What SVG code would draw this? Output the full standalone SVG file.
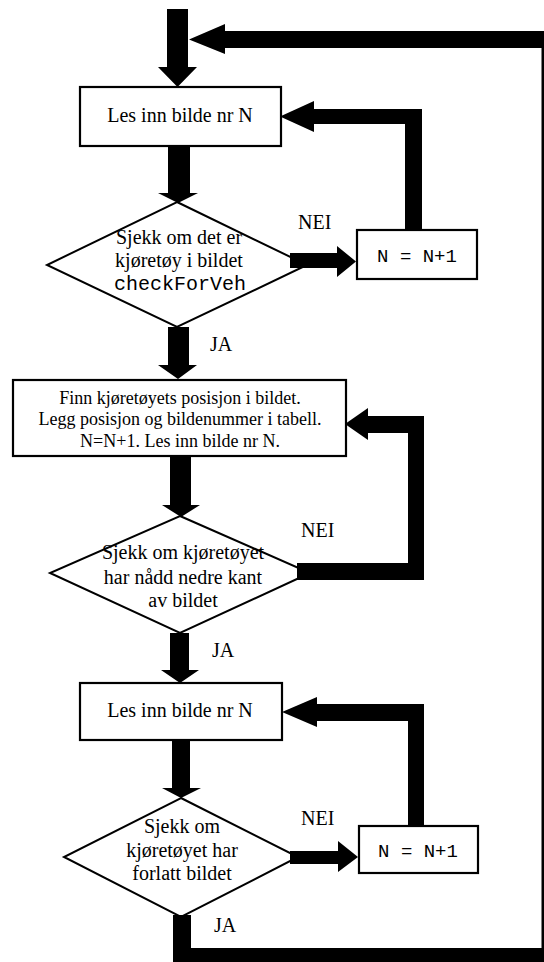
<svg xmlns="http://www.w3.org/2000/svg" width="544" height="962" viewBox="0 0 544 962">
<style>
.bg{fill:#fff}
.box{fill:#fff;stroke:#000;stroke-width:2.2}
.dia{fill:#fff;stroke:#000;stroke-width:2}
.t{font-family:"Liberation Serif","Times New Roman",serif;font-size:20px;fill:#000;text-anchor:middle}
.t2{font-family:"Liberation Serif","Times New Roman",serif;font-size:18px;fill:#000;text-anchor:middle}
.m{font-family:"Liberation Mono","Courier New",monospace;font-size:19px;fill:#000;text-anchor:middle}
.lbl{font-family:"Liberation Serif","Times New Roman",serif;font-size:20px;fill:#000}
.c{fill:#000;stroke:none}
</style>
<rect class="bg" x="0" y="0" width="544" height="962"/>
<g id="box1">
<rect class="box" x="80" y="87" width="201" height="59"/>
<text class="t" x="180" y="122">Les inn bilde nr N</text>
</g>
<g id="dia1">
<polygon class="dia" points="177,202 307,265 177,327 47,265"/>
<text class="t" x="179" y="244">Sjekk om det er</text>
<text class="t" x="179" y="267">kjøretøy i bildet</text>
<text class="m" x="180" y="290" style="font-size:20px">checkForVeh</text>
</g>
<g id="inc1">
<rect class="box" x="357" y="230" width="120" height="49"/>
<text class="m" x="417" y="262">N = N+1</text>
</g>
<g id="box2">
<rect class="box" x="13" y="380" width="333" height="76"/>
<text class="t2" x="180" y="404">Finn kjøretøyets posisjon i bildet.</text>
<text class="t2" x="180" y="425">Legg posisjon og bildenummer i tabell.</text>
<text class="t2" x="180" y="447">N=N+1. Les inn bilde nr N.</text>
</g>
<g id="dia2">
<polygon class="dia" points="180,516 310,573 180,633 50,573"/>
<text class="t" x="183" y="559">Sjekk om kjøretøyet</text>
<text class="t" x="183" y="584">har nådd nedre kant</text>
<text class="t" x="183" y="607">av bildet</text>
</g>
<g id="box3">
<rect class="box" x="80" y="683" width="202" height="57"/>
<text class="t" x="180" y="717">Les inn bilde nr N</text>
</g>
<g id="dia3">
<polygon class="dia" points="181,798 298,857 181,917 64,857"/>
<text class="t" x="182" y="833">Sjekk om</text>
<text class="t" x="182" y="857">kjøretøyet har</text>
<text class="t" x="182" y="880">forlatt bildet</text>
</g>
<g id="inc2">
<rect class="box" x="359" y="826" width="119" height="47"/>
<text class="m" x="418" y="857">N = N+1</text>
</g>
<g id="connectors">
<polygon class="c" points="167,9 188,9 188,67 197,67 177.5,87 158,67 167,67"/>
<polygon class="c" points="168,146 190,146 190,193 198,193 178,203 158,193 168,193"/>
<polygon class="c" points="168,327 189,327 189,365 197,365 178,379 158,365 168,365"/>
<polygon class="c" points="170,456 191,456 191,505 200,505 181,517 162,505 170,505"/>
<polygon class="c" points="170,633 189,633 189,670 199,670 180,683 161,670 170,670"/>
<polygon class="c" points="172,740 190,740 190,788 201,788 181,798 162,788 172,788"/>
<polygon class="c" points="173,915 173,962 544,962 544,31 225,31 225,24 189,39.5 225,54 225,48 541.5,48 541.5,948 191,948 191,915"/>
<polygon class="c" points="280,116.5 314,101 314,109 422,109 422,230 405,230 405,124 314,124 314,132"/>
<polygon class="c" points="345,424 368,408 368,416 424,416 424,580 297,580 297,563 408,563 408,433 368,433 368,440"/>
<polygon class="c" points="282,712 317,697 317,704 424,704 424,826 408,826 408,721 317,721 317,727"/>
<polygon class="c" points="290,253 337,253 337,246 356,261.5 337,277 337,268 290,268"/>
<polygon class="c" points="290,851 338,851 338,841 358,857 338,872 338,864 290,864"/>
</g>
<g id="labels">
<text class="lbl" x="298" y="229">NEI</text>
<text class="lbl" x="210" y="351">JA</text>
<text class="lbl" x="301" y="537">NEI</text>
<text class="lbl" x="212" y="657">JA</text>
<text class="lbl" x="301" y="825">NEI</text>
<text class="lbl" x="214" y="932">JA</text>
</g>
</svg>
